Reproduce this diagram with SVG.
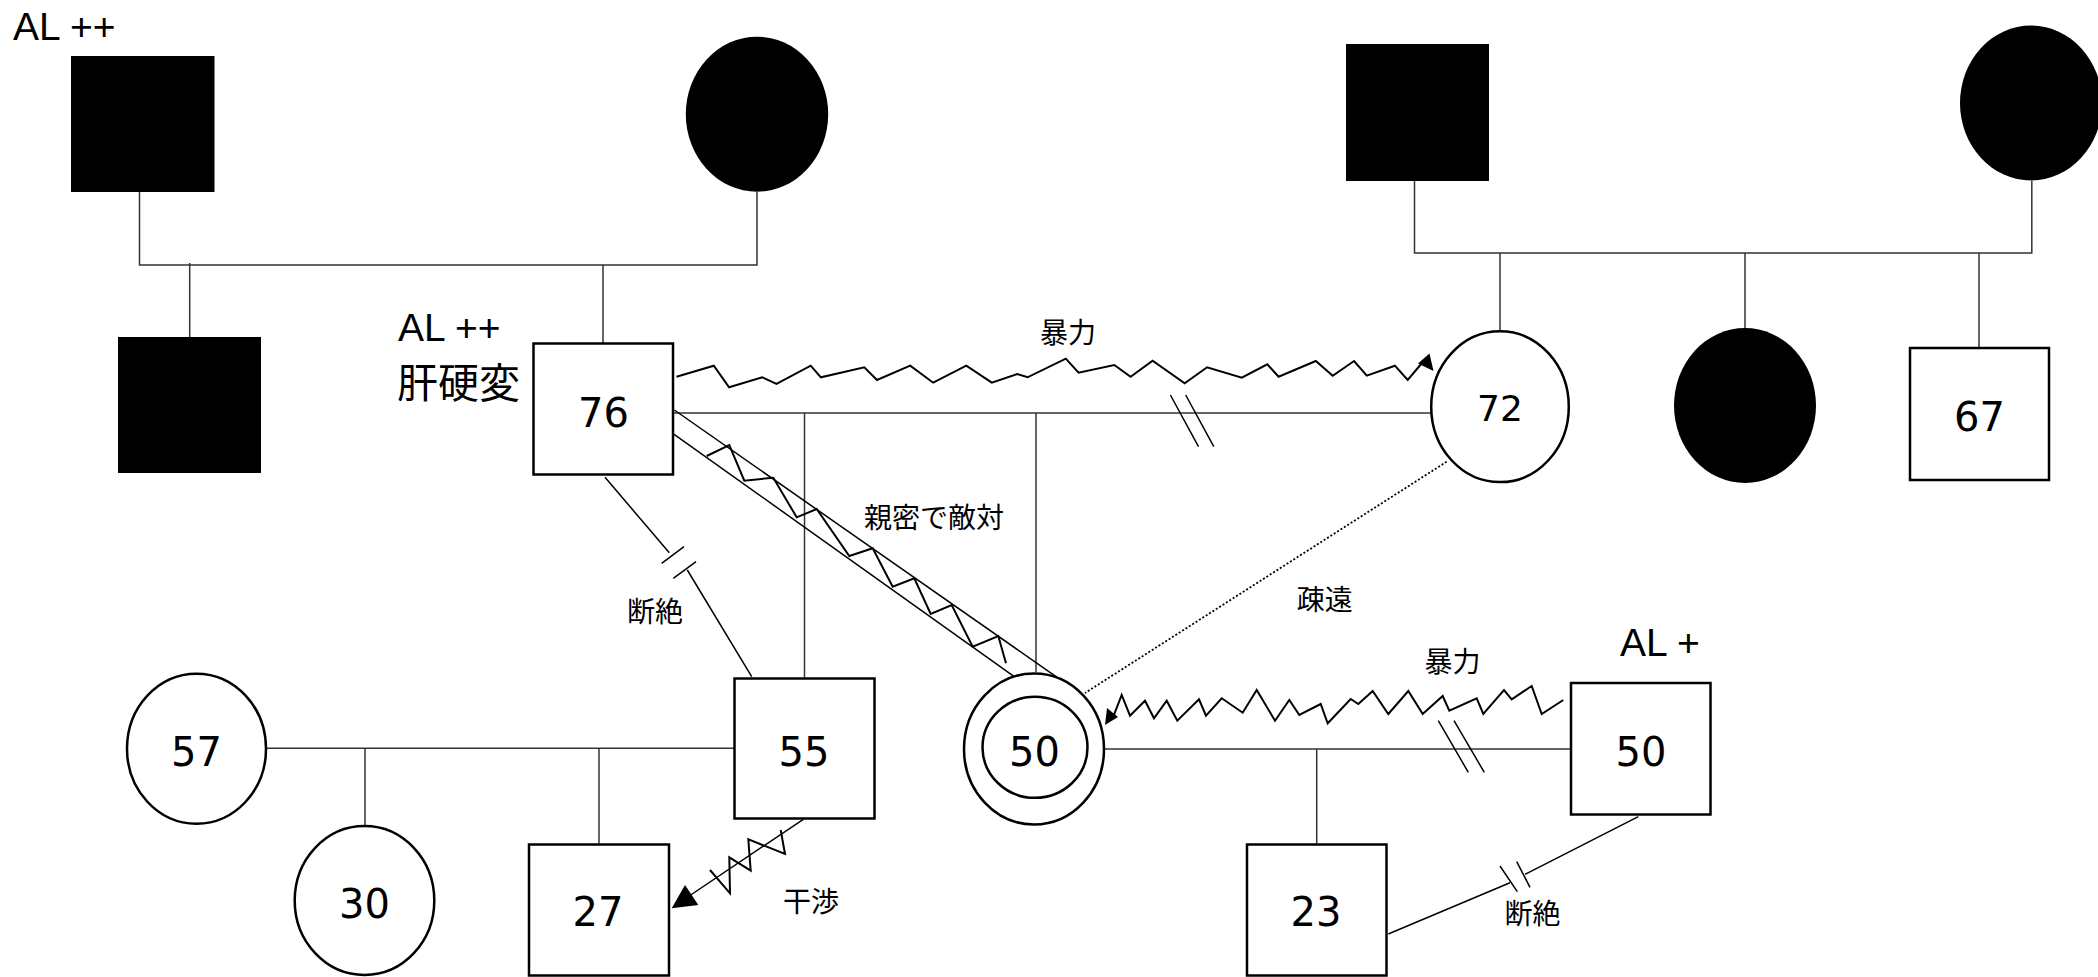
<svg xmlns="http://www.w3.org/2000/svg" width="2098" height="977" viewBox="0 0 2098 977">
<style>
.bg{fill:#fff}
.shape{fill:#fff;stroke:#000;stroke-width:2.5}
.filled{fill:#000;stroke:none}
.fam{fill:none;stroke:#333;stroke-width:1.5}
.rel{fill:none;stroke:#000;stroke-width:1.5}
.zig{fill:none;stroke:#000;stroke-width:2;stroke-linejoin:miter}
.dot{fill:none;stroke:#000;stroke-width:1.8;stroke-dasharray:2 2}
.arr{fill:#000;stroke:none}
.num{font-family:"DejaVu Sans",sans-serif;font-size:40px;text-anchor:middle;fill:#000}
.al{font-family:"Liberation Sans",Arial,sans-serif;font-size:39px;fill:#000}
.jp{font-family:"Noto Sans CJK JP","Noto Sans",sans-serif;font-size:28px;text-anchor:middle;fill:#000}
.jpl{font-family:"Noto Sans CJK JP","Noto Sans",sans-serif;font-size:41px;fill:#000}
</style>
<rect class="bg" x="0" y="0" width="2098" height="977"/>

<g id="connectors">
  <path class="fam" d="M139.5 192 V265 H757 V192"/>
  <path class="fam" d="M189.7 263 V337"/>
  <path class="fam" d="M603 265 V343"/>
  <path class="fam" d="M1414.5 181 V253 H2031.8 V181"/>
  <path class="fam" d="M1500 253 V330"/>
  <path class="fam" d="M1745 253 V328"/>
  <path class="fam" d="M1979 253 V347"/>
  <path class="fam" d="M674 413 H1431"/>
  <path class="fam" d="M804.5 413 V677.5"/>
  <path class="fam" d="M1036 413 V672"/>
  <path class="rel" d="M1170.4 395 L1198.5 446.7 M1185.7 395 L1213.8 446.7"/>
  <path class="fam" d="M267 748.3 H734"/>
  <path class="fam" d="M365 748.3 V825"/>
  <path class="fam" d="M599 748.3 V843.5"/>
  <path class="fam" d="M1105 749 H1570"/>
  <path class="fam" d="M1316.7 749 V843.5"/>
  <path class="rel" d="M1438.3 720.7 L1468.3 772.3 M1454 720.7 L1484.3 772.3"/>
  <path class="rel" d="M605 477.3 L669.3 552.7 M687.3 570 L751.7 676.7"/>
  <path class="rel" d="M661.7 563.3 L684 546.7 M673.3 578.3 L696 561.7"/>
  <path class="rel" d="M1388.3 934 L1510 882.7 M1525 874.3 L1638.3 816.7"/>
  <path class="rel" d="M1500 866 L1517.3 891.7 M1516.7 861.7 L1530 887.3"/>
  <path class="dot" d="M1446.7 461.7 L1085 693"/>
  <path class="rel" d="M674.3 410 L1060 679.3"/>
  <path class="rel" d="M672.7 433.3 L1016.7 678.3"/>
  <polyline class="zig" points="706.7,456 729.3,445 744.3,480.7 773.3,477.7 796.7,517.3 816.7,509 849.3,556 872.7,548.3 892.7,586.7 914.3,578.3 930.7,614 951.7,605 972.7,646.7 998.3,636 1006,663.3"/>
  <polyline class="zig" points="676.5,376.7 713.8,365.7 729.1,387.3 762.2,377.3 776.5,384 810.7,365.7 820.9,377.3 864.3,367.3 877,380 910.2,365.7 933.2,382.7 966.3,365.7 991.8,382.7 1017.3,374 1027.6,377.3 1065.8,358.7 1078.6,372.7 1114.3,365 1130.6,376.7 1152.6,360.7 1184.7,383.3 1207.1,367.3 1241.8,377.7 1267.3,364.3 1278.6,376.7 1315.8,361 1332.7,375.7 1354.1,361 1366.8,375.7 1394.9,365.7 1407.7,380 1422,363"/>
  <polygon class="arr" points="1429.5,353.5 1418,363.5 1433.5,371"/>
  <polyline class="zig" points="1563.3,700 1541.7,714 1531.7,686 1511.7,699.3 1504,690 1483.3,714 1476.7,698.3 1449.3,710.7 1442.7,696 1422.7,714 1408.3,691 1388.3,714 1372.7,691 1358.3,704 1350.7,699 1327.7,723.3 1320.7,704 1299.3,715 1289.3,700 1275,720.7 1256.7,690 1242.7,712.7 1221.7,698.3 1206,715.7 1199,699.3 1177.3,720.7 1166.7,700.7 1154,718.3 1145,700.7 1130,715.7 1121.7,695 1113.3,716.7"/>
  <polygon class="arr" points="1105,725 1107,708 1118,717"/>
  <path class="rel" d="M803.3 819.3 L684 899.5"/>
  <polyline class="zig" points="780.7,830 785,854 748.3,839.3 750.7,870.7 729.3,857.3 730,893.3 710,870"/>
  <polygon class="arr" points="671.7,908.3 685,885 698.3,905"/>
  <text class="jp" x="1068" y="343">暴力</text>
  <text class="jp" x="934" y="528">親密で敵対</text>
  <text class="jp" x="655" y="621.5">断絶</text>
  <text class="jp" x="1324.7" y="610">疎遠</text>
  <text class="jp" x="1452.5" y="671.5">暴力</text>
  <text class="jp" x="1532.5" y="923.5">断絶</text>
  <text class="jp" x="811" y="911.5">干渉</text>
</g>

<g id="pgf">
  <rect class="filled" x="71" y="56" width="143.5" height="136"/>
  <text class="al" x="13" y="40">AL ++</text>
</g>
<g id="pgm">
  <ellipse class="filled" cx="757" cy="114.2" rx="71.2" ry="77.5"/>
</g>
<g id="uncle">
  <rect class="filled" x="118" y="337" width="143" height="136"/>
</g>
<g id="father76">
  <rect class="shape" x="533.5" y="343.5" width="139.5" height="131"/>
  <text class="num" x="603.5" y="426.5">76</text>
  <text class="al" x="398" y="341">AL ++</text>
  <text class="jpl" x="397" y="397.5">肝硬変</text>
</g>
<g id="mgf">
  <rect class="filled" x="1346" y="44" width="143" height="137"/>
</g>
<g id="mgm">
  <ellipse class="filled" cx="2031" cy="103" rx="71" ry="77.5"/>
</g>
<g id="mother72">
  <ellipse class="shape" cx="1500" cy="406.7" rx="68.8" ry="75.4"/>
  <text class="num" x="1500" y="421" style="font-size:36px">72</text>
</g>
<g id="aunt">
  <ellipse class="filled" cx="1745" cy="405.5" rx="71" ry="77.5"/>
</g>
<g id="uncle67">
  <rect class="shape" x="1910" y="348" width="139" height="132"/>
  <text class="num" x="1979.4" y="431">67</text>
</g>
<g id="wife57">
  <ellipse class="shape" cx="196.5" cy="748.7" rx="69.5" ry="75"/>
  <text class="num" x="196.5" y="766">57</text>
</g>
<g id="brother55">
  <rect class="shape" x="734.5" y="678.5" width="140" height="140"/>
  <text class="num" x="804" y="766">55</text>
</g>
<g id="child30">
  <ellipse class="shape" cx="364.5" cy="900.5" rx="69.8" ry="74.5"/>
  <text class="num" x="364.5" y="917.7">30</text>
</g>
<g id="child27">
  <rect class="shape" x="529" y="844.5" width="140" height="131"/>
  <text class="num" x="598" y="926">27</text>
</g>
<g id="client50">
  <ellipse class="shape" cx="1034" cy="749" rx="70" ry="75.5"/>
  <ellipse class="shape" cx="1035" cy="747.3" rx="52.5" ry="50.5"/>
  <text class="num" x="1034.5" y="766">50</text>
</g>
<g id="husband50">
  <rect class="shape" x="1571" y="683" width="139.5" height="131.5"/>
  <text class="num" x="1641" y="765.7">50</text>
  <text class="al" x="1620" y="656">AL +</text>
</g>
<g id="child23">
  <rect class="shape" x="1247" y="844.5" width="139.5" height="131"/>
  <text class="num" x="1316" y="926">23</text>
</g>
</svg>
